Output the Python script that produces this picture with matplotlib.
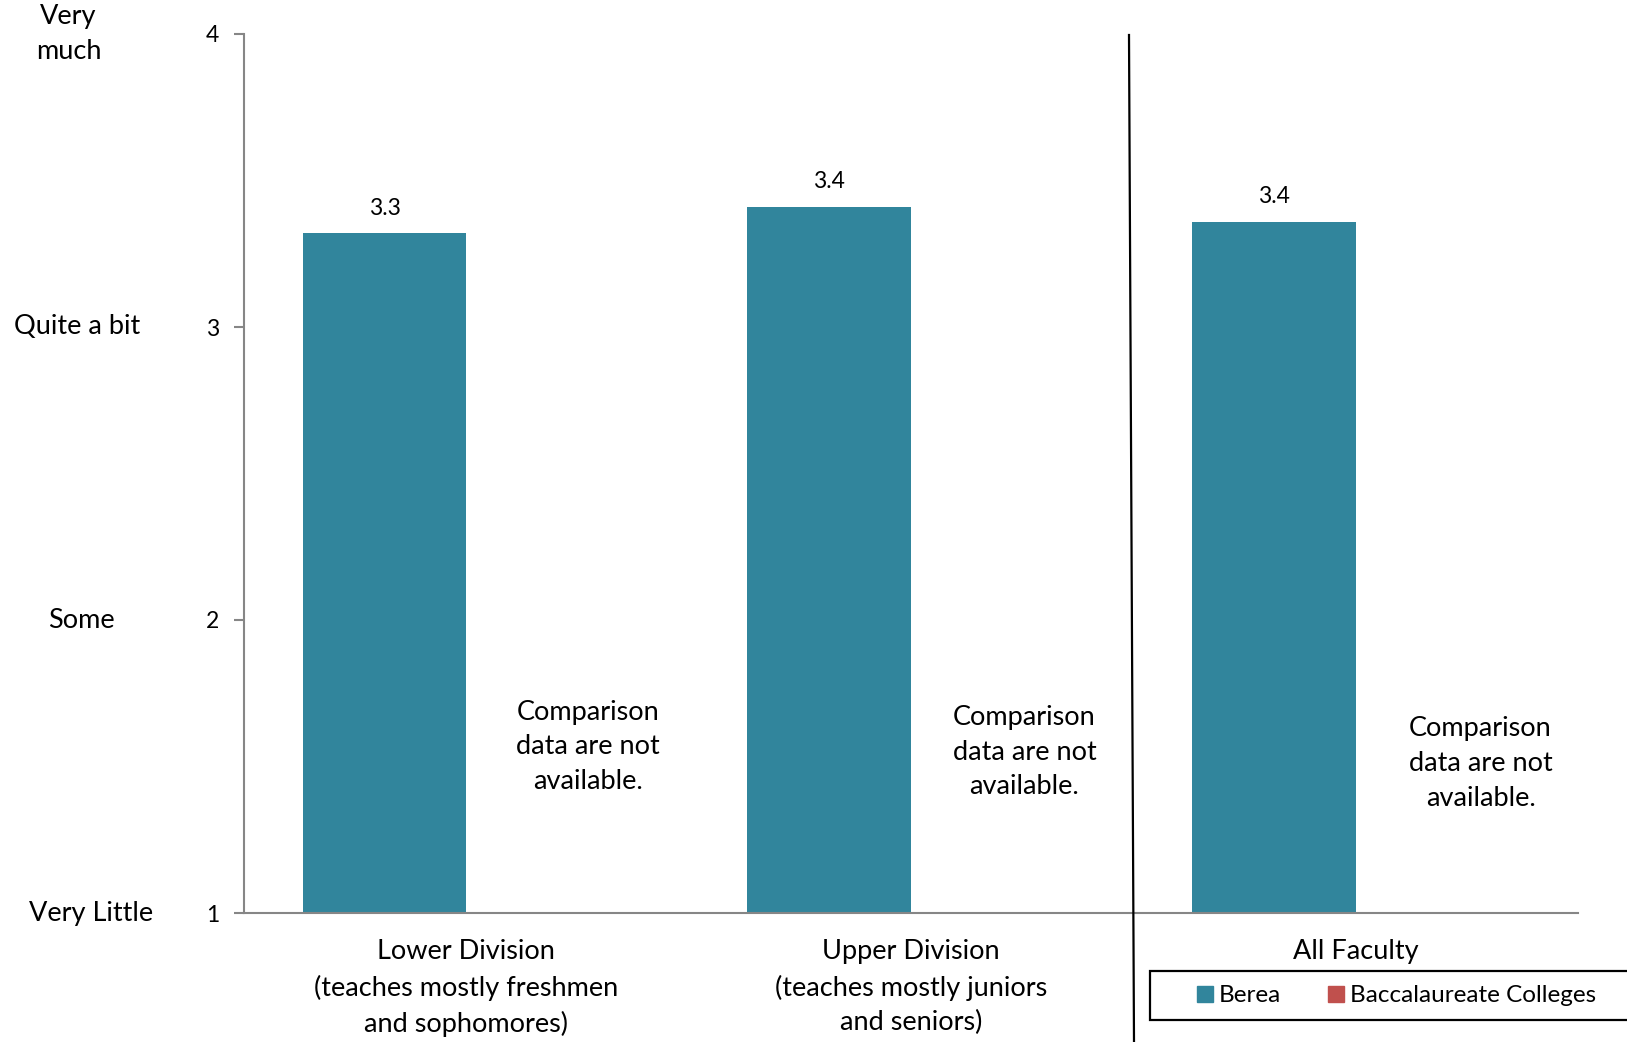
import matplotlib
matplotlib.use("Agg")
import matplotlib.pyplot as plt
from matplotlib.patches import Patch, Rectangle
from matplotlib.lines import Line2D

plt.rcParams['font.family'] = ['Lato', 'DejaVu Sans']

# Data
groups = ["Lower Division\n(teaches mostly freshmen\nand sophomores)",
          "Upper Division\n(teaches mostly juniors\nand seniors)",
          "All Faculty"]
berea = [3.32, 3.41, 3.36]
series_names = ["Berea", "Baccalaureate Colleges"]
scale_ticks = [1, 2, 3, 4]
scale_labels = ["Very Little", "Some", "Quite a bit", "Very\nmuch"]
note = "Comparison\ndata are not\navailable."

berea_color = "#31859C"
bacc_color = "#C0504D"

W, H = 1627, 1042
fig = plt.figure(figsize=(W / 100, H / 100), dpi=100)
ax = fig.add_axes([244 / W, 1 - 913 / H, (1578 - 244) / W, (913 - 34) / H])

bar_w = 0.368
xs = [i + 0.5 - bar_w / 2 for i in range(len(groups))]
ax.bar(xs, [v - 1 for v in berea], bottom=1, width=bar_w, color=berea_color, zorder=2)
for x, v in zip(xs, berea):
    ax.text(x, v + 0.05, f"{v:.1f}", ha="center", va="bottom", fontsize=16.5)

# notes where comparison bars would be
note_pos = [(0.774, 1.567), (1.755, 1.549), (2.781, 1.51)]
for (nx, ny) in note_pos:
    ax.text(nx, ny, note, ha="center", va="center", fontsize=19.5, linespacing=1.48)

ax.set_xlim(0, 3)
ax.set_ylim(1, 4)
ax.set_yticks(scale_ticks)
ax.set_yticklabels([str(t) for t in scale_ticks], fontsize=16.5)
ax.tick_params(axis="y", direction="out", length=7, width=1.5, color="#868686", pad=11)
ax.set_xticks([i + 0.5 for i in range(len(groups))])
ax.set_xticklabels(groups, fontsize=19.5, linespacing=1.48, va="top")
ax.tick_params(axis="x", length=0, pad=19)
for s in ["top", "right"]:
    ax.spines[s].set_visible(False)
for s in ["left", "bottom"]:
    ax.spines[s].set_color("#868686")
    ax.spines[s].set_linewidth(1.5)

# descriptive scale labels
label_x = {"Very\nmuch": -0.1316, "Quite a bit": -0.1253, "Some": -0.1222, "Very Little": -0.1145}
for t, lab in zip(scale_ticks, scale_labels):
    ax.text(label_x[lab], t, lab, transform=ax.get_yaxis_transform(), ha="center",
            va="center", fontsize=19.5, linespacing=1.48)

# divider between division groups and all faculty
fig.add_artist(Line2D([1129 / W, 1134 / W], [1 - 35 / H, 0], transform=fig.transFigure,
                      color="black", lw=1.6))

# legend with a frame running off the right edge
fig.add_artist(Rectangle((1150 / W, 1 - 1020 / H), 600 / W, 49 / H, transform=fig.transFigure,
                         facecolor="white", edgecolor="black", lw=1.6))
handles = [Patch(color=berea_color), Patch(color=bacc_color)]
leg = fig.legend(handles, series_names, loc="center left",
                 bbox_to_anchor=(1192 / W, 1 - 996 / H), bbox_transform=fig.transFigure,
                 ncol=2, fontsize=17.5, frameon=False,
                 handlelength=0.66, handleheight=0.66, handletextpad=0.26,
                 columnspacing=1.9, borderpad=0.2, borderaxespad=0)

fig.savefig("out.png", dpi=100)
